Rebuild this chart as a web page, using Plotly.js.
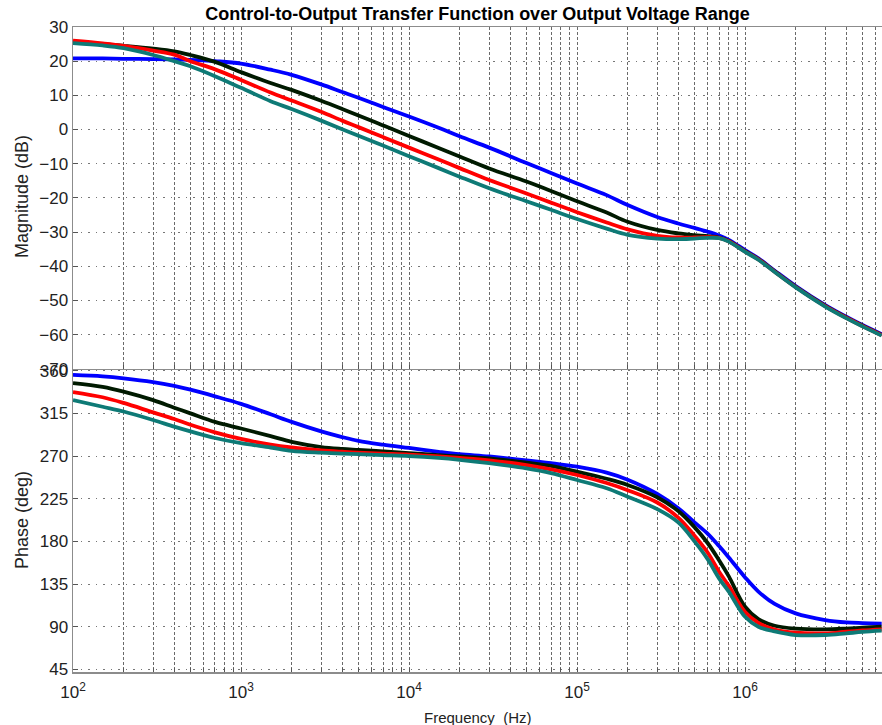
<!DOCTYPE html>
<html>
<head>
<meta charset="utf-8">
<script src="https://cdn.plot.ly/plotly-3.0.1.min.js"></script>
<style>html,body{margin:0;padding:0;background:#fff;}#chart{width:882px;height:725px;}</style>
</head>
<body>
<div id="chart"></div>
<script>
// Frequency points (Hz)
var freq = [100, 150, 200, 300, 400, 500, 700,
  1e3, 1.5e3, 2e3, 3e3, 4e3, 5e3, 7e3,
  1e4, 1.5e4, 2e4, 3e4, 5e4, 7e4,
  1e5, 1.5e5, 2e5, 3e5, 4e5, 5e5, 6e5, 7e5, 8e5,
  1e6, 1.2e6, 1.5e6, 2e6, 3e6, 4e6, 5e6, 6.5e6];

// Magnitude (dB)
var magBlue  = [20.8, 20.8, 20.7, 20.6, 20.5, 20.4, 20.0, 19.3, 17.5, 16.0, 13.2, 11.0, 9.3, 6.6, 3.8, 0.5, -2.0, -5.3, -9.8, -12.7, -15.8, -19.2, -22.1, -25.6, -27.5, -28.8, -29.9, -31.0, -32.3, -35.3, -37.7, -41.3, -45.8, -51.4, -54.8, -57.2, -59.9];
var magBlack = [25.5, 25.0, 24.5, 23.7, 22.9, 21.8, 19.8, 16.8, 13.6, 11.6, 8.4, 6.0, 4.1, 1.2, -1.9, -5.4, -7.9, -11.4, -15.2, -18.0, -21.0, -24.3, -27.0, -29.4, -30.4, -30.9, -31.2, -31.6, -32.6, -35.6, -37.9, -41.5, -46.0, -51.6, -55.0, -57.4, -60.1];
var magRed   = [26.0, 25.2, 24.5, 23.1, 21.9, 20.0, 17.6, 14.5, 10.8, 8.5, 5.2, 2.6, 0.7, -2.2, -5.3, -8.8, -11.3, -14.8, -18.7, -21.4, -24.2, -27.2, -29.2, -31.1, -31.6, -31.6, -31.5, -31.7, -32.7, -35.7, -38.0, -41.6, -46.1, -51.7, -55.1, -57.5, -60.2];
var magTeal  = [25.3, 24.6, 23.8, 21.8, 20.0, 18.5, 15.6, 12.2, 8.3, 6.0, 2.6, 0.1, -1.8, -4.7, -7.8, -11.3, -13.8, -17.2, -21.0, -23.5, -26.2, -29.0, -30.8, -31.9, -32.1, -31.9, -31.7, -31.8, -32.8, -35.8, -38.1, -41.7, -46.2, -51.8, -55.2, -57.6, -60.3];

// Phase (deg)
var phBlue  = [355.5, 354, 352, 348, 344, 340, 333, 325, 314, 306, 296, 290, 286, 282, 278.5, 274.5, 272, 269.5, 265.5, 262.5, 258.7, 252.5, 245, 230, 215, 200, 188, 175, 163, 142, 127, 114, 104, 97, 94.5, 93.8, 93.3];
var phBlack = [347, 343, 338, 329, 321, 315, 306, 299, 291, 285, 279.5, 277.5, 276.5, 275, 273, 271, 269.5, 267.5, 263, 259.5, 253.5, 246, 239.5, 226.5, 212, 195, 178, 160, 143, 111, 98, 91, 88, 87.2, 88, 89, 90];
var phRed   = [337.5, 332, 326, 316, 309, 303, 295, 288, 282, 279, 276, 274.5, 273.5, 272.5, 271.5, 269.5, 268, 265.5, 260.5, 256, 250, 241.5, 234, 221, 205, 186, 168, 148, 133, 105.5, 94, 87, 83.6, 83, 84.7, 86, 87.2];
var phTeal  = [329, 322, 317, 308, 301, 296, 289, 283.5, 279, 275.5, 273.5, 272.5, 272, 271, 270, 268, 266, 262.5, 257, 252, 244.7, 236, 227.1, 214, 200, 180, 161, 141, 127, 100.5, 90, 85, 81.2, 81.2, 83, 84.5, 85.8];

var seriesColors = ['#0000ff', '#001a00', '#ff0000', '#0e7a76'];
var magSeries = [magBlue, magBlack, magRed, magTeal];
var phSeries = [phBlue, phBlack, phRed, phTeal];

var magTicks = [-70, -60, -50, -40, -30, -20, -10, 0, 10, 20, 30];
var phTicks = [45, 90, 135, 180, 225, 270, 315, 360];

// log-axis ticks: decades labelled, 2..9 unlabelled
var decades = [2, 3, 4, 5, 6];
var xTickVals = [], xTickText = [];
decades.forEach(function(d){
  for (var m = 1; m <= 9; m++) {
    var v = m * Math.pow(10, d);
    if (v > 6.6e6) break;
    xTickVals.push(v);
    xTickText.push(m === 1 ? '10<sup>' + d + '</sup>' : '');
  }
});

var traces = [];
for (var i = 0; i < 4; i++) {
  traces.push({x: freq, y: magSeries[i], xaxis: 'x2', yaxis: 'y', mode: 'lines',
    line: {color: seriesColors[i], width: 3.8, shape: 'spline', smoothing: 1}, hoverinfo: 'skip'});
}
for (var j = 0; j < 4; j++) {
  traces.push({x: freq, y: phSeries[j], xaxis: 'x', yaxis: 'y2', mode: 'lines',
    line: {color: seriesColors[j], width: 3.8, shape: 'spline', smoothing: 1}, hoverinfo: 'skip'});
}

var font = 'Liberation Sans, Arial, Helvetica, sans-serif';
var axLine = '#8c8c8c';
var xGrid = {showgrid: true, gridcolor: '#6a6a6a', griddash: '3px,2px', gridwidth: 1};
var yGrid = {showgrid: true, gridcolor: '#777', griddash: '1.5px,6px', gridwidth: 1};

var common_x = Object.assign({
  type: 'log', range: [2, Math.log10(6.53e6)],
  tickmode: 'array', tickvals: xTickVals, ticktext: xTickText,
  ticks: 'inside', ticklen: 4, tickcolor: '#555',
  showline: true, linecolor: axLine, linewidth: 1.5, mirror: true,
  zeroline: false, tickfont: {family: font, size: 17, color: '#222'}
}, xGrid);

var layout = {
  width: 882, height: 725,
  margin: {l: 73, r: 0, t: 27, b: 53},
  paper_bgcolor: '#ffffff', plot_bgcolor: '#ffffff',
  showlegend: false,
  title: {text: '<b>Control-to-Output Transfer Function over Output Voltage Range</b>',
    font: {family: font, size: 18, color: '#000'},
    x: 0.5, xref: 'paper', xanchor: 'center', y: 1 - 14/725, yref: 'container', yanchor: 'middle'},
  xaxis: Object.assign({}, common_x, {anchor: 'y2', ticklabelstandoff: 4}),
  xaxis2: Object.assign({}, common_x, {anchor: 'y', matches: 'x', showticklabels: false}),
  yaxis: Object.assign({
    domain: [0.4702, 1], range: [-70, 30],
    tickmode: 'array', tickvals: magTicks,
    ticks: 'inside', ticklen: 5, tickcolor: '#555',
    showline: true, linecolor: axLine, linewidth: 1.5, mirror: true, zeroline: false,
    tickfont: {family: font, size: 17, color: '#222'}
  }, yGrid),
  yaxis2: Object.assign({
    domain: [0, 0.4733], range: [42.2, 364.2],
    tickmode: 'array', tickvals: phTicks,
    ticks: 'inside', ticklen: 5, tickcolor: '#555',
    showline: true, linecolor: axLine, linewidth: 1.5, mirror: true, zeroline: false,
    tickfont: {family: font, size: 17, color: '#222'}
  }, yGrid),
  annotations: [
    {text: 'Magnitude (dB)', xref: 'paper', yref: 'paper', x: 0, y: 0.7364, xshift: -51,
     xanchor: 'center', yanchor: 'middle', textangle: -90, showarrow: false,
     font: {family: font, size: 18, color: '#222'}},
    {text: 'Phase (deg)', xref: 'paper', yref: 'paper', x: 0, y: 0.2357, xshift: -51,
     xanchor: 'center', yanchor: 'middle', textangle: -90, showarrow: false,
     font: {family: font, size: 18, color: '#222'}},
    {text: 'Frequency\u00a0\u00a0(Hz)', xref: 'paper', yref: 'paper', x: 0.5, y: 0, yshift: -45,
     xanchor: 'center', yanchor: 'middle', showarrow: false,
     font: {family: font, size: 15, color: '#222'}}
  ]
};

Plotly.newPlot('chart', traces, layout, {displayModeBar: false, staticPlot: true});
</script>
</body>
</html>
